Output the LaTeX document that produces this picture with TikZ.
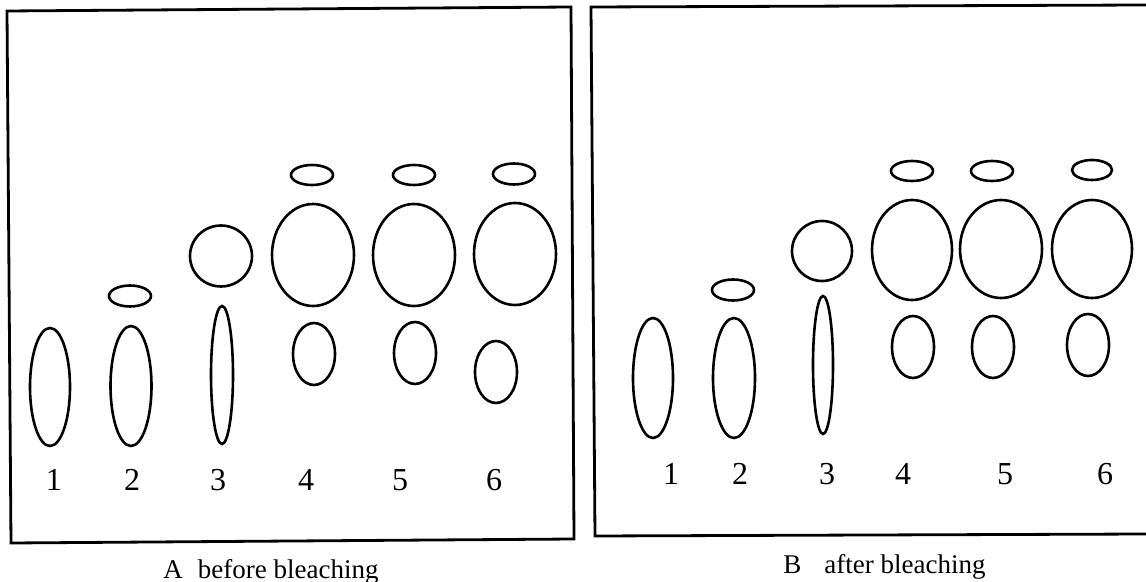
\documentclass[tikz,border=0pt]{standalone}
\usepackage{fontspec}
\setmainfont{Liberation Serif}
\begin{document}
\begin{tikzpicture}[x=0.5pt,y=-0.5pt,
  spot/.style={line width=1.3pt},
  frame/.style={line width=1.4pt},
  num/.style={anchor=base,inner sep=0pt,font=\fontsize{16}{16}\selectfont},
  captext/.style={anchor=base west,inner sep=0pt,font=\fontsize{13.5}{14}\selectfont}]
\useasboundingbox (0,0) rectangle (1146,582);
% frames
\draw[frame] (7,11) -- (571,7) -- (574,539) -- (11,543) -- cycle;
\draw[frame] (1146,5) -- (591,7) -- (595,536) -- (1146,534);
% left plate spots
\draw[spot] (50,387) ellipse [x radius=20, y radius=59];
\draw[spot] (130,296) ellipse [x radius=21, y radius=10.5];
\draw[spot] (131,386) ellipse [x radius=20.5, y radius=60];
\draw[spot] (221,256) ellipse [x radius=31, y radius=30.5];
\draw[spot] (222,375) ellipse [x radius=11, y radius=69];
\draw[spot] (312,175) ellipse [x radius=21, y radius=10];
\draw[spot] (313,255) ellipse [x radius=41, y radius=51];
\draw[spot] (314,354) ellipse [x radius=21, y radius=31];
\draw[spot] (414,175) ellipse [x radius=21, y radius=10];
\draw[spot] (414,255) ellipse [x radius=41, y radius=51];
\draw[spot] (415,353) ellipse [x radius=21, y radius=31];
\draw[spot] (514,174) ellipse [x radius=21, y radius=10.5];
\draw[spot] (515,254) ellipse [x radius=41, y radius=51];
\draw[spot] (496,372) ellipse [x radius=21, y radius=31];
% right plate spots
\draw[spot] (653,378) ellipse [x radius=20, y radius=60];
\draw[spot] (733,290) ellipse [x radius=21, y radius=10.5];
\draw[spot] (734,378) ellipse [x radius=21, y radius=60];
\draw[spot] (822,251) ellipse [x radius=30, y radius=30];
\draw[spot] (823,365) ellipse [x radius=10, y radius=69];
\draw[spot] (912,171) ellipse [x radius=21, y radius=10];
\draw[spot] (912,250) ellipse [x radius=40, y radius=50];
\draw[spot] (913,347) ellipse [x radius=21, y radius=31];
\draw[spot] (992,171) ellipse [x radius=21, y radius=10];
\draw[spot] (1001,249) ellipse [x radius=41, y radius=49];
\draw[spot] (993,347) ellipse [x radius=21, y radius=31];
\draw[spot] (1092,170) ellipse [x radius=20, y radius=10];
\draw[spot] (1092,249) ellipse [x radius=40, y radius=49];
\draw[spot] (1088,345) ellipse [x radius=21, y radius=31];
% lane numbers
\node[num] (a1) at (54,491) {1};
\node[num] (a2) at (132,491) {2};
\node[num] (a3) at (218,491) {3};
\node[num] (a4) at (306,491) {4};
\node[num] (a5) at (400,491) {5};
\node[num] (a6) at (494,491) {6};
\node[num] (b1) at (671,485) {1};
\node[num] (b2) at (740,485) {2};
\node[num] (b3) at (827,485) {3};
\node[num] (b4) at (903,485) {4};
\node[num] (b5) at (1005,485) {5};
\node[num] (b6) at (1105,485) {6};
% captions
\node[captext] (capA) at (163,578) {A\hspace*{7.5pt}before bleaching};
\node[captext] (capB) at (783,574) {B\hspace*{11.5pt}after bleaching};
\end{tikzpicture}
\end{document}
